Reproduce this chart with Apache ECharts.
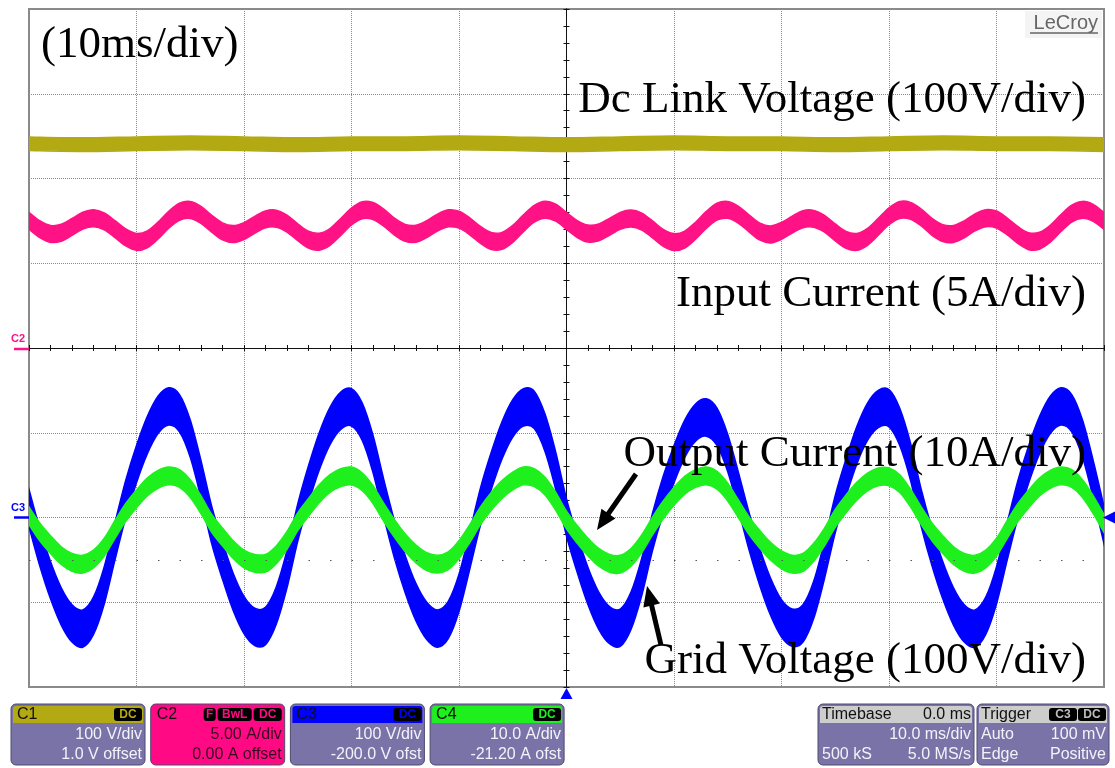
<!DOCTYPE html>
<html>
<head>
<meta charset="utf-8">
<script src="https://cdn.jsdelivr.net/npm/echarts@6/dist/echarts.min.js"></script>
<style>
  html, body { margin: 0; padding: 0; background: #ffffff; }
  #scope { width: 1115px; height: 768px; }
</style>
</head>
<body>
<div id="scope"></div>
<script>
// ---- acquisition data (10 ms/div, 1 ms sample spacing for the display) ----
const timeMs = [-50,-49,-48,-47,-46,-45,-44,-43,-42,-41,-40,-39,-38,-37,-36,-35,-34,-33,-32,-31,-30,-29,-28,-27,-26,
  -25,-24,-23,-22,-21,-20,-19,-18,-17,-16,-15,-14,-13,-12,-11,-10,-9,-8,-7,-6,-5,-4,-3,-2,-1,
  0,1,2,3,4,5,6,7,8,9,10,11,12,13,14,15,16,17,18,19,20,21,22,23,24,
  25,26,27,28,29,30,31,32,33,34,35,36,37,38,39,40,41,42,43,44,45,46,47,48,49,50];

// C1: dc link voltage (V), sampled every 5 ms
const dcTimeMs = [-50,-45,-40,-35,-30,-25,-20,-15,-10,-5,0,5,10,15,20,25,30,35,40,45,50];
const dcLinkVoltage = [240,239,240,241,240,239,240,240,241,240,239,240,241,240,240,239,240,241,240,240,239];

// C2: input current (A)
const inputCurrent = [7.51,7.01,6.73,6.80,7.14,7.51,7.66,7.47,7.01,6.52,6.26,6.41,6.93,7.57,8.04,8.14,7.85,7.33,6.88,6.72,6.90,7.27,7.59,7.63,7.34,
  6.83,6.39,6.27,6.55,7.14,7.76,8.13,8.08,7.69,7.16,6.79,6.74,7.01,7.40,7.65,7.57,7.18,6.67,6.31,6.32,6.73,7.36,7.92,8.16,7.98,
  7.50,7.02,6.75,6.82,7.15,7.50,7.64,7.46,7.00,6.50,6.25,6.40,6.92,7.56,8.05,8.15,7.86,7.34,6.86,6.70,6.91,7.28,7.60,7.62,7.33,
  6.82,6.38,6.26,6.56,7.15,7.77,8.14,8.09,7.70,7.15,6.78,6.73,7.00,7.41,7.66,7.58,7.17,6.66,6.30,6.33,6.74,7.37,7.93,8.15,7.97,7.50];

// C3: grid voltage (V)
const gridVoltage = [11,-35,-74,-105,-125,-131,-116,-80,-28,22,63,97,121,131,123,93,45,
  -9,-51,-88,-115,-129,-128,-104,-61,-6,39,78,108,126,130,113,75,23,
  -26,-67,-100,-122,-131,-121,-89,-39,13,55,91,117,130,127,100,55,
  0,-43,-81,-110,-127,-130,-110,-70,-17,27,63,93,112,118,107,76,31,
  -17,-59,-94,-119,-130,-125,-97,-50,4,47,85,113,128,129,107,66,11,
  -35,-74,-105,-125,-131,-116,-80,-28,22,63,97,121,131,123,93,45,-9];

// C4: output current (A)
const outputCurrent = [1.4,-0.5,-2.0,-3.3,-4.1,-4.3,-3.7,-2.3,-0.2,1.8,3.4,4.8,5.7,6.1,5.8,4.6,2.7,
  0.5,-1.1,-2.6,-3.7,-4.2,-4.2,-3.2,-1.5,0.7,2.4,4.0,5.2,5.9,6.1,5.4,3.9,1.8,
  -0.1,-1.8,-3.1,-4.0,-4.3,-3.9,-2.6,-0.7,1.4,3.1,4.5,5.5,6.1,5.9,4.9,3.1,
  0.9,-0.8,-2.3,-3.5,-4.2,-4.3,-3.5,-1.9,0.2,2.1,3.7,5.0,5.8,6.1,5.6,4.2,2.2,
  0.2,-1.4,-2.8,-3.8,-4.3,-4.1,-2.9,-1.1,1.1,2.8,4.3,5.4,6.0,6.0,5.2,3.5,1.4,
  -0.5,-2.0,-3.3,-4.1,-4.3,-3.7,-2.3,-0.2,1.8,3.4,4.8,5.7,6.1,5.8,4.6,2.7,0.5];

// switching ripple (peak, same units as the channel)
const channelRipple = [8, 0.5, 22, 1.05];

// vertical settings of the four channels
const channelNames = ['C1', 'C2', 'C3', 'C4'];
const channelScale = [100, 5, 100, 10];          // units per division
const channelOffset = [1.0, 0.0, -200.0, -21.2]; // offset added before scaling
const scaleLabels = ['100 V/div', '5.00 A/div', '100 V/div', '10.0 A/div'];
const offsetLabels = ['1.0 V offset', '0.00 A offset', '-200.0 V ofst', '-21.20 A ofst'];
const channelBadges = [['DC'], ['F', 'BwL', 'DC'], ['DC'], ['DC']];

const traceLabels = ['Dc Link Voltage (100V/div)', 'Input Current (5A/div)', 'Output Current (10A/div)', 'Grid Voltage (100V/div)'];
const timebaseNote = '(10ms/div)';
const timebaseRows = [['Timebase', '0.0 ms'], ['', '10.0 ms/div'], ['500 kS', '5.0 MS/s']];
const triggerRows = [['Trigger', ''], ['Auto', '100 mV'], ['Edge', 'Positive']];
const triggerBadges = ['C3', 'DC'];

// ---- styling ----
const traceColors = ['#b3a912', '#ff1285', '#0000ff', '#1ef01e'];
const badgeColors = ['#b3a912', '#ff0a84', '#0000ff', '#1ef01e'];
const panelBody = '#7a73a8';
const serif = '"Liberation Serif", "Times New Roman", serif';
const sans = '"Liberation Sans", Arial, sans-serif';

const chart = echarts.init(document.getElementById('scope'), null, { renderer: 'canvas' });

const gridX = {
  type: 'value', min: -50, max: 50, interval: 10,
  axisLine: { show: false }, axisTick: { show: false }, axisLabel: { show: false },
  splitLine: { show: true, lineStyle: { color: '#8a8a8a', type: [1, 1], width: 1 } }
};
const gridY = {
  type: 'value', min: -4, max: 4, interval: 1,
  axisLine: { show: false }, axisTick: { show: false }, axisLabel: { show: false },
  splitLine: { show: true, lineStyle: { color: '#8a8a8a', type: [1, 1], width: 1 } }
};
// centre cross with sub-division ticks on both sides
function crossX(inside) {
  return {
    type: 'value', min: -50, max: 50, interval: 2,
    axisLine: { show: true, onZero: true, onZeroAxisIndex: 0, lineStyle: { color: '#111', width: 1 } },
    axisTick: { show: true, inside: inside, length: 3, lineStyle: { color: '#111', width: 1 } },
    axisLabel: { show: false }, splitLine: { show: false }
  };
}
function crossY(inside) {
  return {
    type: 'value', min: -4, max: 4, interval: 0.2,
    axisLine: { show: true, onZero: true, onZeroAxisIndex: 0, lineStyle: { color: '#111', width: 1 } },
    axisTick: { show: true, inside: inside, length: 3, lineStyle: { color: '#111', width: 1 } },
    axisLabel: { show: false }, splitLine: { show: false }
  };
}
// one hidden value axis per channel: 8 divisions around -offset
const channelAxes = channelScale.map((s, i) => ({
  type: 'value', show: false,
  min: -channelOffset[i] - 4 * s,
  max: -channelOffset[i] + 4 * s
}));

// smooth path (Catmull-Rom converted to cubic Bezier) through pixel points
function curvePath(pts, moveFirst) {
  let d = (moveFirst ? 'M' : 'L') + pts[0][0].toFixed(2) + ' ' + pts[0][1].toFixed(2);
  for (let i = 0; i < pts.length - 1; i++) {
    const p0 = pts[Math.max(i - 1, 0)], p1 = pts[i], p2 = pts[i + 1], p3 = pts[Math.min(i + 2, pts.length - 1)];
    const c1x = p1[0] + (p2[0] - p0[0]) / 6, c1y = p1[1] + (p2[1] - p0[1]) / 6;
    const c2x = p2[0] - (p3[0] - p1[0]) / 6, c2y = p2[1] - (p3[1] - p1[1]) / 6;
    d += 'C' + c1x.toFixed(2) + ' ' + c1y.toFixed(2) + ' ' + c2x.toFixed(2) + ' ' + c2y.toFixed(2) + ' ' + p2[0].toFixed(2) + ' ' + p2[1].toFixed(2);
  }
  return d;
}

// a trace is drawn as a filled band: signal +/- ripple
function traceBand(name, times, values, axisIndex, color, ripple) {
  return {
    type: 'custom', name: name, xAxisIndex: 0, yAxisIndex: axisIndex, silent: true,
    data: times.map((t, i) => [t, values[i]]),
    renderItem: function (params, api) {
      if (params.dataIndex !== 0) return null;
      const upper = times.map((t, i) => api.coord([t, values[i] + ripple]));
      const lower = times.map((t, i) => api.coord([t, values[i] - ripple])).reverse();
      const d = curvePath(upper, true) + curvePath(lower, false) + 'Z';
      const cs = params.coordSys;
      return {
        type: 'path',
        shape: { pathData: d },
        style: { fill: color, stroke: color, lineWidth: 1.5 },
        clipPath: { type: 'rect', shape: { x: cs.x, y: cs.y, width: cs.width, height: cs.height } }
      };
    }
  };
}

const series = [
  {
    type: 'line', name: 'marker row', xAxisIndex: 0, yAxisIndex: 0, data: [[-50, -2.5]], symbol: 'none',
    lineStyle: { opacity: 0 }, silent: true,
    markLine: {
      silent: true, symbol: 'none', label: { show: false },
      lineStyle: { color: '#555', type: [1.5, 20], width: 1.2 },
      data: [{ yAxis: -2.5 }]
    }
  },
  traceBand('C1', dcTimeMs, dcLinkVoltage, 3, traceColors[0], channelRipple[0]),
  traceBand('C2', timeMs, inputCurrent, 4, traceColors[1], channelRipple[1]),
  traceBand('C3', timeMs, gridVoltage, 5, traceColors[2], channelRipple[2]),
  traceBand('C4', timeMs, outputCurrent, 6, traceColors[3], channelRipple[3])
];

chart.setOption({
  animation: false,
  backgroundColor: '#ffffff',
  grid: { left: 29, right: 11, top: 9, bottom: 81, show: true, borderColor: '#8a8a8a', borderWidth: 2, backgroundColor: '#ffffff' },
  xAxis: [gridX, crossX(true), crossX(false)],
  yAxis: [gridY, crossY(true), crossY(false)].concat(channelAxes),
  series: series
});

// ---- annotations and readout panel ----
function txt(text, x, y, font, fill, align, vAlign, z) {
  return {
    type: 'text', x: x, y: y, z: z || 100,
    style: { text: text, font: font, fill: fill, align: align || 'left', textAlign: align || 'left',
             verticalAlign: vAlign || 'middle', textVerticalAlign: vAlign || 'middle' }
  };
}
function arrow(x1, y1, x2, y2) {
  const dx = x2 - x1, dy = y2 - y1, L = Math.hypot(dx, dy), ux = dx / L, uy = dy / L;
  const hl = 20, hw = 8.5, bx = x2 - ux * hl, by = y2 - uy * hl;
  return [
    { type: 'line', z: 100, shape: { x1: x1, y1: y1, x2: bx + ux * 3, y2: by + uy * 3 }, style: { stroke: '#000', lineWidth: 5 } },
    { type: 'polygon', z: 100, shape: { points: [[x2, y2], [bx - uy * hw, by + ux * hw], [bx + uy * hw, by - ux * hw]] }, style: { fill: '#000' } }
  ];
}
function badge(label, x, y, w, textColor) {
  return [
    { type: 'rect', z: 102, shape: { x: x, y: y, width: w, height: 13, r: 3 }, style: { fill: '#000' } },
    txt(label, x + w / 2, y + 7, 'bold 12px ' + sans, textColor, 'center', 'middle', 103)
  ];
}
function badgeWidth(label) { return label.length === 1 ? 12 : (label.length === 2 ? 28 : 34); }

const labelFont = '45px ' + serif;
const els = [];
els.push(txt(timebaseNote, 41, 45, labelFont, '#000', 'left'));
els.push(txt(traceLabels[0], 1086, 100, labelFont, '#000', 'right'));
els.push(txt(traceLabels[1], 1086, 294, labelFont, '#000', 'right'));
els.push(txt(traceLabels[2], 1086, 454, labelFont, '#000', 'right'));
els.push(txt(traceLabels[3], 1086, 661, labelFont, '#000', 'right'));
els.push(...arrow(636, 474, 597, 530));
els.push(...arrow(661, 645, 647, 586));

// logo
els.push({ type: 'rect', z: 90, shape: { x: 1025, y: 11, width: 77, height: 27 }, style: { fill: '#f4f4f4' } });
els.push(txt('LeCroy', 1098, 23, '20px ' + sans, '#666666', 'right', 'middle', 91));
els.push({ type: 'line', z: 91, shape: { x1: 1030, y1: 33, x2: 1098, y2: 33 }, style: { stroke: '#666666', lineWidth: 1.5 } });

// channel ground markers and trigger markers
const c2Zero = chart.convertToPixel({ yAxisIndex: 4 }, 0);
const c3Zero = chart.convertToPixel({ yAxisIndex: 5 }, 0);
const tZero = chart.convertToPixel({ xAxisIndex: 0 }, 0);
els.push(txt('C2', 11, c2Zero - 9, 'bold 11px ' + sans, traceColors[1], 'left'));
els.push({ type: 'line', z: 100, shape: { x1: 14, y1: c2Zero + 1, x2: 29, y2: c2Zero + 1 }, style: { stroke: traceColors[1], lineWidth: 2.5 } });
els.push(txt('C3', 11, c3Zero - 10, 'bold 11px ' + sans, traceColors[2], 'left'));
els.push({ type: 'line', z: 100, shape: { x1: 14, y1: c3Zero, x2: 29, y2: c3Zero }, style: { stroke: traceColors[2], lineWidth: 2.5 } });
els.push({ type: 'polygon', z: 100, shape: { points: [[1103, c3Zero], [1115, c3Zero - 6], [1115, c3Zero + 6]] }, style: { fill: '#0000ff' } });
els.push({ type: 'polygon', z: 100, shape: { points: [[tZero, 688], [tZero - 6, 699], [tZero + 6, 699]] }, style: { fill: '#0000ff' } });

// channel readout boxes
channelNames.forEach((name, i) => {
  const x0 = 11 + i * 139.7, w = 134;
  const isPink = i === 1;
  const textFill = isPink ? '#3a0620' : '#f2f2f8';
  els.push({ type: 'rect', z: 100, shape: { x: x0, y: 704, width: w, height: 61, r: 5 },
             style: { fill: isPink ? badgeColors[1] : panelBody, stroke: '#4e4a70', lineWidth: 1 } });
  els.push({ type: 'rect', z: 101, shape: { x: x0 + 2, y: 706, width: w - 4, height: 17, r: [3, 3, 0, 0] },
             style: { fill: badgeColors[i] } });
  els.push(txt(name, x0 + 6, 715, '16px ' + sans, '#111', 'left', 'middle', 102));
  let bx = x0 + w - 3;
  channelBadges[i].slice().reverse().forEach((b) => {
    const bw = badgeWidth(b);
    bx -= bw;
    els.push(...badge(b, bx, 708, bw, badgeColors[i]));
    bx -= 2;
  });
  els.push(txt(scaleLabels[i], x0 + w - 3, 735, '16px ' + sans, textFill, 'right', 'middle', 102));
  els.push(txt(offsetLabels[i], x0 + w - 3, 755, '16px ' + sans, textFill, 'right', 'middle', 102));
});

// timebase and trigger boxes
function infoBox(x0, w, rows, badges) {
  els.push({ type: 'rect', z: 100, shape: { x: x0, y: 704, width: w, height: 61, r: 5 },
             style: { fill: panelBody, stroke: '#4e4a70', lineWidth: 1 } });
  els.push({ type: 'rect', z: 101, shape: { x: x0 + 2, y: 706, width: w - 4, height: 17, r: [3, 3, 0, 0] },
             style: { fill: '#cdcdcd' } });
  const ys = [715, 735, 755];
  rows.forEach((r, k) => {
    const fill = k === 0 ? '#111' : '#f2f2f8';
    if (r[0]) els.push(txt(r[0], x0 + 4, ys[k], '16px ' + sans, fill, 'left', 'middle', 102));
    if (r[1]) els.push(txt(r[1], x0 + w - 3, ys[k], '16px ' + sans, fill, 'right', 'middle', 102));
  });
  if (badges) {
    let bx = x0 + w - 3;
    badges.slice().reverse().forEach((b) => {
      const bw = badgeWidth(b);
      bx -= bw;
      els.push(...badge(b, bx, 708, bw, '#bdbdbd'));
      bx -= 1;
    });
  }
}
infoBox(818, 156, timebaseRows, null);
infoBox(977, 132, triggerRows, triggerBadges);

chart.setOption({ graphic: { elements: els } });
</script>
</body>
</html>
